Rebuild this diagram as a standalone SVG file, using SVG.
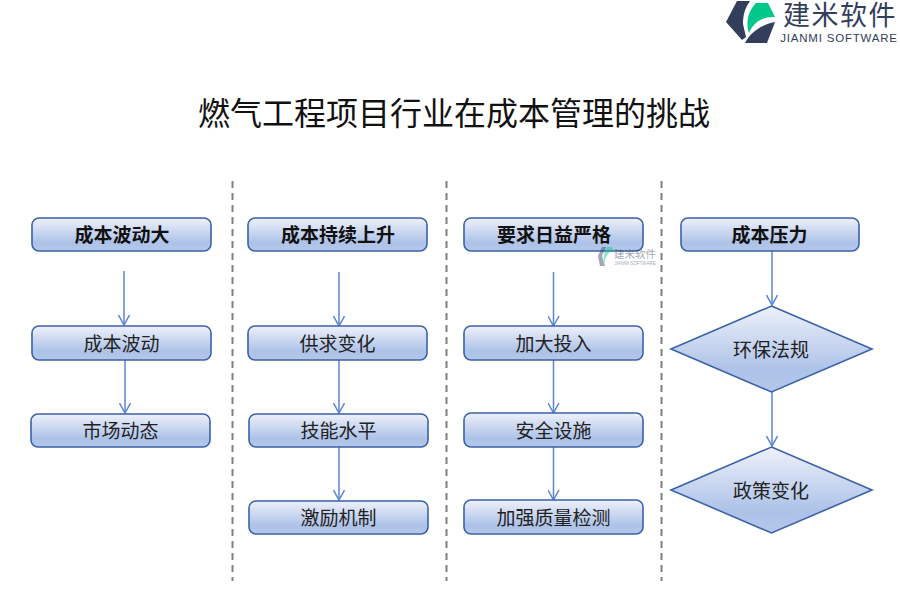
<svg xmlns="http://www.w3.org/2000/svg" width="900" height="600" viewBox="0 0 900 600">
<style>
text{font-family:"Noto Sans CJK SC","Liberation Sans",sans-serif;text-anchor:middle;fill:#222}
.t{font-size:19px;dominant-baseline:central}
.h{font-size:19px;font-weight:700;fill:#111;dominant-baseline:central}
.b{fill:url(#g);stroke:#3b62a8;stroke-width:1.6}
.c{stroke:#5b84d2;stroke-width:1.5;fill:none;marker-end:url(#a)}
.d{stroke:#808080;stroke-width:2;stroke-dasharray:7 5;fill:none}
</style>
<defs>
<linearGradient id="g" x1="0" y1="0" x2="0" y2="1"><stop offset="0" stop-color="#eef1fa"/><stop offset=".75" stop-color="#adc2e8"/><stop offset="1" stop-color="#b5c8ea"/></linearGradient>
<marker id="a" viewBox="0 0 12 12" refX="11" refY="6" markerWidth="12" markerHeight="12" markerUnits="userSpaceOnUse" orient="auto"><path d="M1 .5 11 6 1 11.5" fill="none" stroke="#5b84d2" stroke-width="1.5"/></marker>
</defs>
<rect width="900" height="600" fill="#fff"/>
<g id="logo">
<path d="M737 1H750C745 8 743 15 743 24L746 37 742 40 726 22Z" fill="#333d5c"/>
<path d="M749 33C745 22 749 10 756 3H768L775 17C765 16 754 21 749 33Z" fill="#00c78a"/>
<path d="M745 43C750 33 760 25 775 22L767 43Z" fill="#333d5c"/>
<text x="840" y="25" style="font-size:27px;letter-spacing:1.500px;fill:#333d5c">建米软件</text>
<text x="839" y="42" style="font-family:'Liberation Sans',sans-serif;font-size:11.500px;letter-spacing:.8px;fill:#333d5c">JIANMI SOFTWARE</text>
</g>
<text id="title" x="454" y="125" style="font-size:32px;fill:#111">燃气工程项目行业在成本管理的挑战</text>
<g id="dividers">
<path class="d" d="M232.500 181V581"/><path class="d" d="M446.500 181V581"/><path class="d" d="M661.500 181V581"/>
</g>
<g id="connectors">
<path class="c" d="M124 271V325"/><path class="c" d="M125 360V413"/>
<path class="c" d="M339 272V326"/><path class="c" d="M339 360V413"/><path class="c" d="M339 447V500"/>
<path class="c" d="M553.500 272V326"/><path class="c" d="M553.500 360V413"/><path class="c" d="M553.500 447V500"/>
<path class="c" d="M772 251V305"/><path class="c" d="M772 392V446"/>
</g>
<g id="n1"><rect class="b" x="32" y="218" width="179" height="33" rx="7"/><text class="h" x="122" y="233.500">成本波动大</text></g>
<g id="n2"><rect class="b" x="32" y="326" width="179" height="34" rx="7"/><text class="t" x="121.500" y="342">成本波动</text></g>
<g id="n3"><rect class="b" x="31" y="414" width="179" height="33" rx="7"/><text class="t" x="120.500" y="429.500">市场动态</text></g>
<g id="n4"><rect class="b" x="248" y="218" width="179" height="33" rx="7"/><text class="h" x="338" y="233.500">成本持续上升</text></g>
<g id="n5"><rect class="b" x="248" y="326" width="179" height="34" rx="7"/><text class="t" x="337.500" y="342">供求变化</text></g>
<g id="n6"><rect class="b" x="249" y="414" width="179" height="33" rx="7"/><text class="t" x="338.500" y="429.500">技能水平</text></g>
<g id="n7"><rect class="b" x="249" y="501" width="179" height="33" rx="7"/><text class="t" x="338.500" y="516.500">激励机制</text></g>
<g id="n8"><rect class="b" x="464" y="218" width="179" height="33" rx="7"/><text class="h" x="554" y="233.500">要求日益严格</text></g>
<g id="n9"><rect class="b" x="464" y="326" width="179" height="34" rx="7"/><text class="t" x="553.500" y="342">加大投入</text></g>
<g id="n10"><rect class="b" x="464" y="413" width="179" height="34" rx="7"/><text class="t" x="553.500" y="429">安全设施</text></g>
<g id="n11"><rect class="b" x="464" y="500" width="179" height="34" rx="7"/><text class="t" x="553.500" y="516">加强质量检测</text></g>
<g id="n12"><rect class="b" x="681" y="218" width="178" height="33" rx="7"/><text class="h" x="769.500" y="233.500">成本压力</text></g>
<g id="n13"><path class="b" d="M771.500 306 872 349 771.500 392 671 349Z"/><text class="t" x="771" y="348">环保法规</text></g>
<g id="n14"><path class="b" d="M771.500 447 872 490 771.500 533 671 490Z"/><text class="t" x="771" y="489">政策变化</text></g>
<g id="watermark" opacity=".45">
<path d="M602 247H606L602 256 605 266H600L598 256Z" fill="#333d5c"/>
<path d="M604 265C605 258 607 253 613 250L612 247H607C604 251 603 259 604 265Z" fill="#00c78a"/>
<text x="635" y="258" style="font-size:10.500px;fill:#333d5c">建米软件</text>
<text x="635" y="265" style="font-family:'Liberation Sans',sans-serif;font-size:4.500px;fill:#333d5c">JIANMI SOFTWARE</text>
</g>
</svg>
